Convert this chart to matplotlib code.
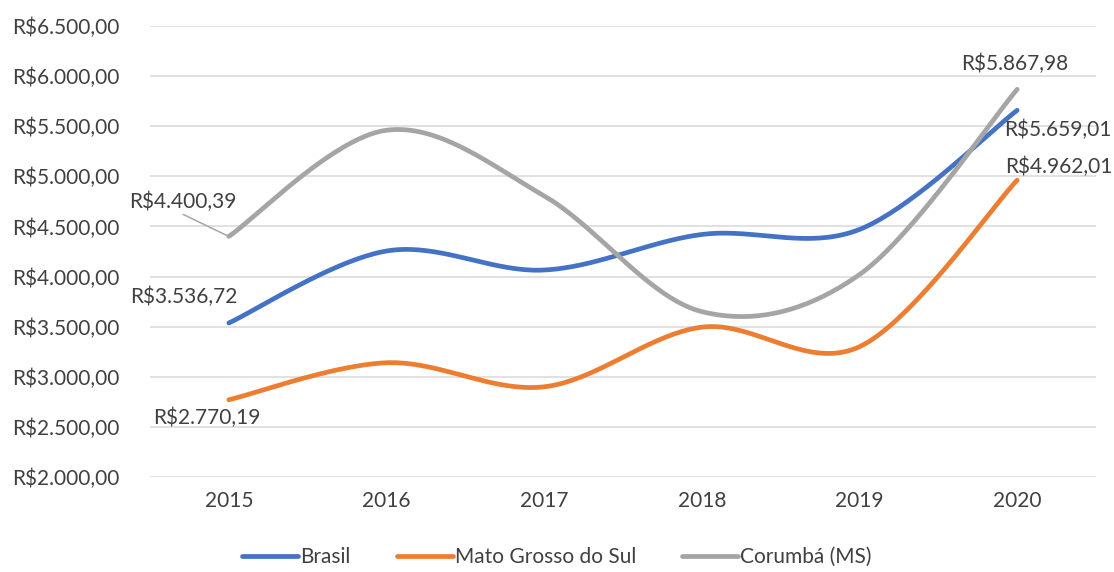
import numpy as np
import matplotlib
matplotlib.use("Agg")
import matplotlib.pyplot as plt
from matplotlib.lines import Line2D

years = ["2015", "2016", "2017", "2018", "2019", "2020"]
brasil = [3536.72, 4255, 4065, 4420, 4470, 5659.01]
ms = [2770.19, 3140, 2900, 3495, 3300, 4962.01]
corumba = [4400.39, 5460, 4805, 3650, 4020, 5867.98]
series_names = ["Brasil", "Mato Grosso do Sul", "Corumbá (MS)"]
colors = ["#4472C4", "#ED7D31", "#A5A5A5"]
yticks = [2000, 2500, 3000, 3500, 4000, 4500, 5000, 5500, 6000, 6500]

plt.rcParams['font.family'] = ['Lato', 'DejaVu Sans']
FS = 15
TXT = "#404040"


def fmt(v):
    s = f"{v:,.2f}"
    s = s.replace(",", "X").replace(".", ",").replace("X", ".")
    return "R$" + s


def smooth(xs, ys, n=40):
    xs = np.asarray(xs, float)
    ys = np.asarray(ys, float)
    P = np.column_stack([xs, ys])
    out = []
    m = len(P)
    for i in range(m - 1):
        p0 = P[i - 1] if i > 0 else P[i]
        p1 = P[i]
        p2 = P[i + 1]
        p3 = P[i + 2] if i + 2 < m else P[i + 1]
        c1 = p1 + (p2 - p0) / 6.0
        c2 = p2 - (p3 - p1) / 6.0
        t = np.linspace(0, 1, n)[:, None]
        seg = ((1 - t) ** 3) * p1 + 3 * ((1 - t) ** 2) * t * c1 + 3 * (1 - t) * t ** 2 * c2 + t ** 3 * p2
        if i > 0:
            seg = seg[1:]
        out.append(seg)
    c = np.vstack(out)
    return c[:, 0], c[:, 1]


fig = plt.figure(figsize=(11.14, 5.72), dpi=100)
ax = fig.add_axes([150 / 1114, 1 - 477 / 572, (1096 - 150) / 1114, (477 - 26) / 572])

x = np.arange(len(years))
for data, col in zip([brasil, ms, corumba], colors):
    sx, sy = smooth(x, data)
    ax.plot(sx, sy, color=col, lw=3.4, solid_capstyle='round', zorder=3)

ax.set_xlim(-0.5, len(years) - 0.5)
ax.set_ylim(yticks[0], yticks[-1])
ax.set_yticks(yticks)
ax.set_yticklabels([fmt(v) for v in yticks], fontsize=FS, color=TXT)
ax.set_xticks(x)
ax.set_xticklabels(years, fontsize=FS, color=TXT)
ax.tick_params(length=0)
ax.tick_params(axis='y', pad=22)
ax.tick_params(axis='x', pad=10)
ax.grid(axis='y', color='#D9D9D9', lw=1.1)
ax.set_axisbelow(True)
for s in ax.spines.values():
    s.set_visible(False)

# data labels
ann = dict(textcoords='offset pixels', fontsize=FS, color=TXT, ha='center', va='center')
ax.annotate(fmt(corumba[0]), (0, corumba[0]), xytext=(-46, 35), zorder=4,
            arrowprops=dict(arrowstyle='-', color='#A5A5A5', lw=1.1, shrinkA=0, shrinkB=0,
                            relpos=(0.45, 0.0)), **ann)
ax.annotate(fmt(brasil[0]), (0, brasil[0]), xytext=(-45, 26), **ann)
ax.annotate(fmt(ms[0]), (0, ms[0]), xytext=(-22, -18), **ann)
ax.annotate(fmt(corumba[-1]), (5, corumba[-1]), xytext=(-2, 25), **ann)
ax.annotate(fmt(brasil[-1]), (5, brasil[-1]), xytext=(41, -20), **ann)
ax.annotate(fmt(ms[-1]), (5, ms[-1]), xytext=(42, 13), **ann)

handles = [Line2D([], [], color=c, lw=3.4, solid_capstyle='round') for c in colors]
fig.legend(handles, series_names, loc='center', bbox_to_anchor=(0.5, 1 - 557 / 572), ncol=3,
           frameon=False, fontsize=FS, labelcolor=TXT, handlelength=2.7, handletextpad=0.1,
           columnspacing=2.2)

fig.savefig("out.png", dpi=100)
